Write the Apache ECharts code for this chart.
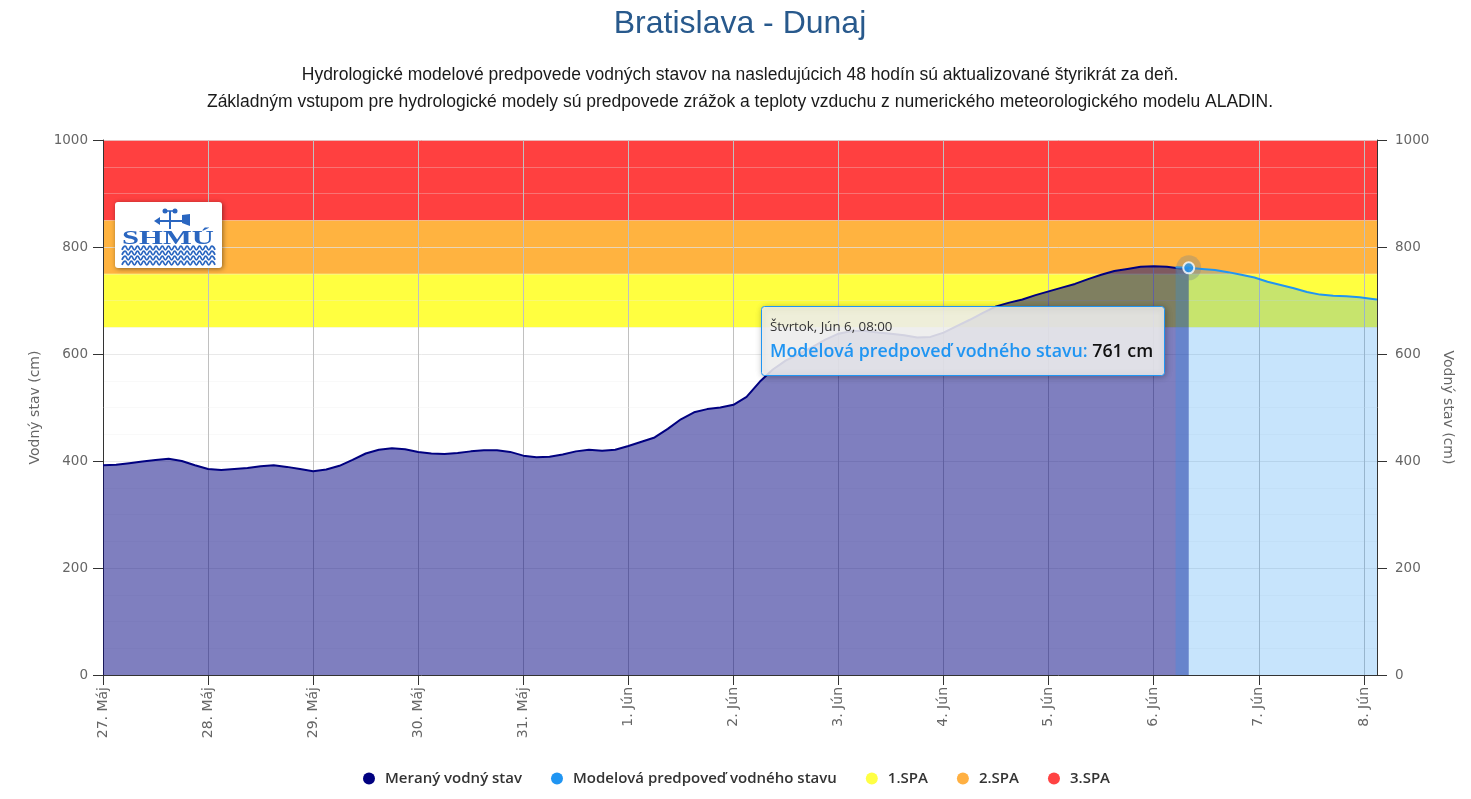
<!DOCTYPE html>
<html>
<head>
<meta charset="utf-8">
<script src="https://cdn.jsdelivr.net/npm/echarts@6/dist/echarts.min.js"></script>
<style>
html,body{margin:0;padding:0;background:#fff;}
#chart{width:1471px;height:799px;}
</style>
</head>
<body>
<div id="chart"></div>
<script>
// ---------- DATA ----------
const titleText = 'Bratislava - Dunaj';
const subtitleLines = [
  'Hydrologické modelové predpovede vodných stavov na nasledujúcich 48 hodín sú aktualizované štyrikrát za deň.',
  'Základným vstupom pre hydrologické modely sú predpovede zrážok a teploty vzduchu z numerického meteorologického modelu ALADIN.'
];
// x axis: hours since 27. Máj 00:00, one tick per day
const xTickLabels = ['27. Máj','28. Máj','29. Máj','30. Máj','31. Máj','1. Jún','2. Jún','3. Jún','4. Jún','5. Jún','6. Jún','7. Jún','8. Jún'];

const measuredHours = [0,3,6,9,12,15,18,21,24,27,30,33,36,39,42,45,48,51,54,57,60,63,66,69,72,75,78,81,84,87,90,93,96,99,102,105,108,111,114,117,120,123,126,129,132,135,138,141,144,147,150,153,156,159,162,165,168,171,174,177,180,183,186,189,192,195,198,201,204,207,210,213,216,219,222,225,228,231,234,237,240,243,246,248];
const measuredValues = [392,393,396,399,402,404,400,392,385,383,385,387,390,392,389,385,381,384,391,402,414,421,424,422,417,414,413,415,418,420,420,417,410,407,408,412,418,421,419,421,428,436,444,460,478,491,497,500,505,520,548,571,588,600,613,627,638,643,643,640,638,635,631,632,640,652,664,677,689,696,702,710,717,724,731,740,748,755,759,763,764,763,760,761];

const forecastHours = [245,248,251,254,257,260,263,266,269,272,275,278,281,284,287,290,291];
const forecastValues = [762,761,759,757,753,748,743,735,729,723,716,711,709,708,706,703,702];

const highlightIndex = 1; // forecast point shown in the tooltip
const tooltipHeader = 'Štvrtok, Jún 6, 08:00';

const seriesNames = ['Meraný vodný stav', 'Modelová predpoveď vodného stavu', '1.SPA', '2.SPA', '3.SPA'];
const bandLevels = [650, 750, 850, 1000]; // 1.SPA, 2.SPA, 3.SPA limits
// ---------- END DATA ----------

const zip = (xs, ys) => xs.map((x, i) => [x, ys[i]]);
const chart = echarts.init(document.getElementById('chart'), null, {renderer: 'canvas'});

const FONT = 'DejaVu Sans';
const bandFill = ['rgba(255,255,0,0.75)', 'rgba(255,153,0,0.75)', 'rgba(255,0,0,0.75)'];
const bandLegend = ['#ffff44', '#ffb042', '#ff4343'];

function bandSeries(i) {
  return {
    name: seriesNames[2 + i], type: 'line', data: [], z: 0,
    itemStyle: {color: bandLegend[i]},
    markArea: {
      silent: true, z: 0,
      itemStyle: {color: bandFill[i], opacity: 1},
      data: [[{yAxis: bandLevels[i]}, {yAxis: bandLevels[i + 1]}]]
    }
  };
}

function yAxisCfg(pos) {
  const left = pos === 'left';
  return {
    type: 'value', position: pos, min: 0, max: 1000, interval: 200, z: 1,
    name: 'Vodný stav (cm)', nameLocation: 'middle',
    nameGap: left ? 60 : 62, nameRotate: left ? 90 : -90,
    nameTextStyle: {color: '#666', fontSize: 14, fontFamily: FONT},
    axisLine: {show: true, lineStyle: {color: '#333', width: 1}},
    axisTick: {show: true, length: 10, lineStyle: {color: '#333'}},
    axisLabel: {margin: left ? 15 : 18, color: '#666', fontSize: 13.5, fontFamily: FONT, formatter: v => String(v)},
    splitLine: {show: left, lineStyle: {color: 'rgba(225,225,225,0.75)'}},
    minorTick: {show: false, splitNumber: 4},
    minorSplitLine: {show: left, lineStyle: {color: 'rgba(235,235,235,0.3)'}}
  };
}

function withZ(el, z) {
  el.z = z;
  if (el.children) el.children.forEach(c => withZ(c, z));
  return el;
}

// decorative wavy lines for the logo (zig-zag points, smoothed)
function wavePoints(y) {
  const pts = [];
  for (let i = 0; i <= 30; i++) pts.push([122 + i * 3.1, y + (i % 2 === 0 ? 1.8 : -1.8)]);
  return pts;
}
const logoBlue = '#2a66c0';
const logo = withZ({
  type: 'group',
  children: [
    {type: 'rect', shape: {x: 115, y: 202, width: 107, height: 66, r: 3},
     style: {fill: '#fff', shadowBlur: 5, shadowColor: 'rgba(0,0,0,0.45)', shadowOffsetX: 1, shadowOffsetY: 1}},
    {type: 'line', shape: {x1: 170, y1: 211, x2: 170, y2: 229}, style: {stroke: logoBlue, lineWidth: 2}},
    {type: 'line', shape: {x1: 156, y1: 221, x2: 184, y2: 221}, style: {stroke: logoBlue, lineWidth: 2}},
    {type: 'polygon', shape: {points: [[182, 215], [190, 214], [190, 226], [182, 223]]}, style: {fill: logoBlue}},
    {type: 'polygon', shape: {points: [[154, 221], [160, 217], [160, 225]]}, style: {fill: logoBlue}},
    {type: 'circle', shape: {cx: 165, cy: 211, r: 2.5}, style: {fill: logoBlue}},
    {type: 'circle', shape: {cx: 175, cy: 211, r: 2.5}, style: {fill: logoBlue}},
    {type: 'line', shape: {x1: 165, y1: 211, x2: 175, y2: 211}, style: {stroke: logoBlue, lineWidth: 1.5}},
    {type: 'text', x: 168, y: 239, scaleX: 1.7,
     style: {text: 'SHMÚ', fontFamily: 'Liberation Serif', fontWeight: 'bold', fontSize: 18, fill: logoBlue,
             align: 'center', verticalAlign: 'middle'}}
  ].concat([248, 253, 258, 263].map(y => ({type: 'polyline', shape: {points: wavePoints(y), smooth: 0.5},
      style: {fill: null, stroke: logoBlue, lineWidth: 1.8}})))
}, 50);

const hv = forecastValues[highlightIndex];
const tooltipBox = withZ({
  type: 'group',
  children: [
    {type: 'rect', shape: {x: 761.5, y: 306.5, width: 403, height: 69, r: 3},
     style: {fill: 'rgba(247,247,247,0.85)', stroke: '#2095f2', lineWidth: 1,
             shadowBlur: 6, shadowColor: 'rgba(0,0,0,0.3)', shadowOffsetX: 1, shadowOffsetY: 1}},
    {type: 'text', x: 770, y: 327,
     style: {text: tooltipHeader, fontFamily: 'Open Sans', fontSize: 13.3, fill: '#333', verticalAlign: 'middle'}},
    {type: 'text', x: 770, y: 352,
     style: {text: '{a|' + seriesNames[1] + ': }{b|' + hv + ' cm}', verticalAlign: 'middle',
             rich: {a: {fontFamily: 'Open Sans', fontSize: 17.8, fontWeight: 600, fill: '#2095f2'},
                    b: {fontFamily: 'Open Sans', fontSize: 17.8, fontWeight: 600, fill: '#111'}}}}
  ]
}, 100);

const option = {
  animation: false,
  backgroundColor: '#fff',
  grid: {left: 103, right: 94, top: 140, bottom: 124},
  graphic: [
    {type: 'text', x: 740, y: 24, z: 10,
     style: {text: titleText, fontFamily: 'Liberation Sans', fontSize: 32, fill: '#28598c', align: 'center', verticalAlign: 'middle'}},
    {type: 'text', x: 740, y: 89, z: 10,
     style: {text: subtitleLines.join('\n'), fontFamily: 'Liberation Sans', fontSize: 17.5, lineHeight: 27, fill: '#1a1a1a', align: 'center', verticalAlign: 'middle'}},
    logo,
    tooltipBox
  ],
  legend: {
    data: seriesNames, left: 358, top: 766, icon: 'circle', itemWidth: 12, itemHeight: 12, itemGap: 29,
    textStyle: {fontFamily: 'Open Sans', fontSize: 15, fontWeight: 600, color: '#333', padding: [0, 0, 0, 5]}
  },
  xAxis: {
    type: 'value', min: 0, max: 291, interval: 24, z: 1,
    axisLine: {lineStyle: {color: '#333'}},
    axisTick: {length: 10, lineStyle: {color: '#333'}},
    axisLabel: {rotate: 90, margin: 12, color: '#666', fontSize: 14, fontFamily: FONT, showMaxLabel: false,
      formatter: v => (v % 24 === 0 && xTickLabels[v / 24]) ? xTickLabels[v / 24] : ''},
    splitLine: {show: true, lineStyle: {color: '#c0c0c0'}}
  },
  yAxis: [yAxisCfg('left'), yAxisCfg('right')],
  series: [
    bandSeries(0), bandSeries(1), bandSeries(2),
    {
      name: seriesNames[0], type: 'line', z: 2, showSymbol: false, symbol: 'none',
      data: zip(measuredHours, measuredValues),
      itemStyle: {color: '#000080'},
      lineStyle: {color: '#000080', width: 2},
      areaStyle: {color: 'rgba(0,0,128,0.5)', opacity: 1, origin: 'start'}
    },
    {
      name: seriesNames[1], type: 'line', z: 3, showSymbol: false, symbol: 'none',
      data: zip(forecastHours, forecastValues),
      itemStyle: {color: '#2095f2'},
      lineStyle: {color: '#2095f2', width: 2},
      areaStyle: {color: 'rgba(32,149,242,0.25)', opacity: 1, origin: 'start'}
    },
    {
      name: 'halo', type: 'scatter', z: 4, silent: true, symbolSize: 25,
      data: [[forecastHours[highlightIndex], forecastValues[highlightIndex]]],
      itemStyle: {color: 'rgba(110,130,150,0.4)'}
    },
    {
      name: 'point', type: 'scatter', z: 5, silent: true, symbolSize: 11,
      data: [[forecastHours[highlightIndex], forecastValues[highlightIndex]]],
      itemStyle: {color: '#2095f2', borderColor: '#fff', borderWidth: 2}
    }
  ]
};
chart.setOption(option);
</script>
</body>
</html>
